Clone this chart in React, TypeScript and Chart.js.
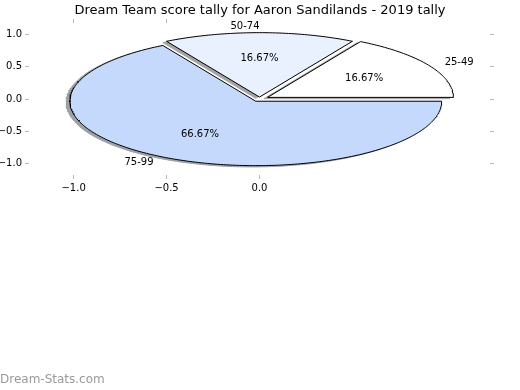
import React, { useEffect, useRef } from 'react';
import { Chart, registerables } from 'chart.js';

Chart.register(...registerables);

const categories = ['25-49', '50-74', '75-99'];
const counts = [1, 1, 4];
const explode = [0.05, 0.03, 0.04];
const wedgeColors = ['#ffffff', '#eaf1fe', '#c5d9fd'];
const shadowColors = ['#a6a6a6', '#a3a4a6', '#9da0a6'];
const xTickValues = [-1, -0.5, 0];
const xTopTickValues = [-1, -0.5];
const yTickValues = [1, 0.5, 0, -0.5, -1];
const titleText = 'Dream Team score tally for Aaron Sandilands - 2019 tally';
const watermarkText = 'Dream-Stats.com';

const FONT = '"DejaVu Sans", "Liberation Sans", sans-serif';
const total = counts.reduce((a, b) => a + b, 0);

function wedgeGeom(i: number) {
  const start = (counts.slice(0, i).reduce((a, b) => a + b, 0) / total) * 360;
  const end = start + (counts[i] / total) * 360;
  const mid = (((start + end) / 2) * Math.PI) / 180;
  return { start, end, mid, cx: explode[i] * Math.cos(mid), cy: explode[i] * Math.sin(mid) };
}

function wedgePoints(i: number, dx: number, dy: number) {
  const g = wedgeGeom(i);
  const ox = g.cx + dx;
  const oy = g.cy + dy;
  const pts = [{ x: ox, y: oy }];
  const steps = Math.max(2, Math.ceil(g.end - g.start));
  for (let k = 0; k <= steps; k++) {
    const a = ((g.start + ((g.end - g.start) * k) / steps) * Math.PI) / 180;
    pts.push({ x: ox + Math.cos(a), y: oy + Math.sin(a) });
  }
  pts.push({ x: ox, y: oy });
  return pts;
}

const fmt = (v: number) => (v < 0 ? '\u2212' : '') + Math.abs(v).toFixed(1);

const pieLabels = {
  id: 'pieLabels',
  afterDatasetsDraw(chart: any) {
    const { ctx } = chart;
    const xs = chart.scales.x;
    const ys = chart.scales.y;
    ctx.save();
    ctx.font = `10px ${FONT}`;
    ctx.fillStyle = '#000000';
    ctx.textBaseline = 'middle';
    categories.forEach((c, i) => {
      const g = wedgeGeom(i);
      const lx = g.cx + 1.1 * Math.cos(g.mid);
      const ly = g.cy + 1.1 * Math.sin(g.mid);
      ctx.textAlign = lx > 1e-6 ? 'left' : 'right';
      ctx.fillText(c, xs.getPixelForValue(lx), ys.getPixelForValue(ly));
      const px = g.cx + 0.6 * Math.cos(g.mid);
      const py = g.cy + 0.6 * Math.sin(g.mid);
      ctx.textAlign = 'center';
      ctx.fillText(((counts[i] / total) * 100).toFixed(2) + '%', xs.getPixelForValue(px), ys.getPixelForValue(py));
    });
    ctx.restore();
  },
};

const tickGrid = {
  drawOnChartArea: false,
  drawTicks: true,
  tickLength: 4,
  tickColor: '#b8b8b8',
  color: '#b8b8b8',
};

export default function App() {
  const ref = useRef<HTMLCanvasElement>(null);
  useEffect(() => {
    if (!ref.current) return;
    const wedgeSets = categories.map((c, i) => ({
      label: c,
      data: wedgePoints(i, 0, 0),
      borderColor: '#000000',
      backgroundColor: wedgeColors[i],
      borderWidth: 1,
      fill: 'shape',
      pointRadius: 0,
      tension: 0,
      order: 1,
    }));
    const shadowSets = categories.map((c, i) => ({
      label: c + ' shadow',
      data: wedgePoints(i, -0.02, -0.02),
      borderColor: shadowColors[i],
      backgroundColor: shadowColors[i],
      borderWidth: 1,
      fill: 'shape',
      pointRadius: 0,
      tension: 0,
      order: 2,
    }));
    const chart = new Chart(ref.current, {
      type: 'line',
      data: { datasets: [...wedgeSets, ...shadowSets] as any },
      options: {
        animation: false,
        responsive: false,
        devicePixelRatio: 1,
        layout: { padding: 0 },
        plugins: {
          legend: { display: false },
          tooltip: { enabled: false },
          title: {
            display: true,
            text: titleText,
            color: '#000000',
            font: { family: FONT, size: 13, weight: 'normal' as any, lineHeight: 1.2 },
            padding: { top: 2.5, bottom: 0 },
          },
          subtitle: {
            display: true,
            text: watermarkText,
            position: 'bottom',
            align: 'start',
            color: '#9a9a9a',
            font: { family: FONT, size: 12, weight: 'normal' as any, lineHeight: 1.2 },
            padding: { top: 0, bottom: 3 },
          },
        },
        scales: {
          x: {
            type: 'linear',
            position: 'bottom',
            min: -1.24,
            max: 1.24,
            border: { display: false },
            grid: tickGrid,
            afterBuildTicks: (s: any) => { s.ticks = xTickValues.map((v) => ({ value: v })); },
            afterFit: (s: any) => { s.height = 197.6; },
            ticks: {
              autoSkip: false,
              maxRotation: 0,
              padding: 3,
              color: '#000000',
              font: { family: FONT, size: 10 },
              callback: (v: any) => fmt(Number(v)),
            },
          },
          x2: {
            type: 'linear',
            axis: 'x',
            position: 'top',
            min: -1.24,
            max: 1.24,
            border: { display: false },
            grid: tickGrid,
            afterBuildTicks: (s: any) => { s.ticks = xTopTickValues.map((v) => ({ value: v })); },
            afterFit: (s: any) => { s.height = 4.9; },
            ticks: { display: false },
          },
          y: {
            type: 'linear',
            position: 'left',
            min: -1.18,
            max: 1.18,
            border: { display: false },
            grid: tickGrid,
            afterBuildTicks: (s: any) => { s.ticks = yTickValues.map((v) => ({ value: v })); },
            afterFit: (s: any) => { s.width = 29; },
            ticks: {
              autoSkip: false,
              padding: 3,
              color: '#000000',
              font: { family: FONT, size: 10 },
              callback: (v: any) => fmt(Number(v)),
            },
          },
          y2: {
            type: 'linear',
            axis: 'y',
            position: 'right',
            min: -1.18,
            max: 1.18,
            border: { display: false },
            grid: tickGrid,
            afterBuildTicks: (s: any) => { s.ticks = yTickValues.map((v) => ({ value: v })); },
            afterFit: (s: any) => { s.width = 30; },
            ticks: { display: false },
          },
        },
      } as any,
      plugins: [pieLabels],
    });
    return () => chart.destroy();
  }, []);
  return (
    <div style={{ position: 'fixed', left: 0, top: 0, width: 520, height: 390, background: '#ffffff' }}>
      <canvas ref={ref} width={520} height={390} />
    </div>
  );
}
